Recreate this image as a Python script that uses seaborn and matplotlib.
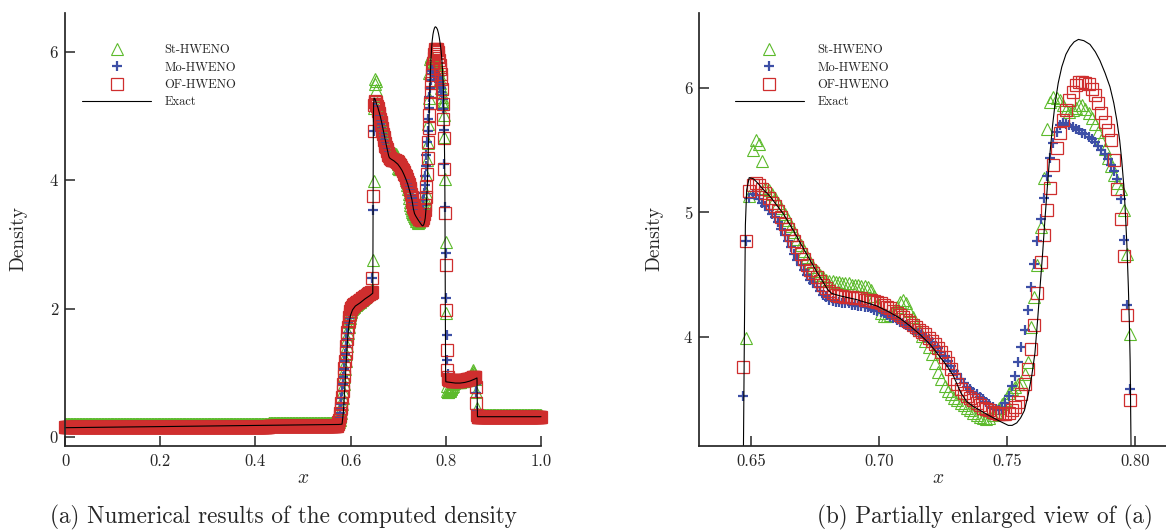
import numpy as np
import matplotlib
matplotlib.use("Agg")
import matplotlib.pyplot as plt
import seaborn as sns
from matplotlib.lines import Line2D

# ── data ──
# uniform mesh of 800 cells
n_cells = 800
x_cells = (np.arange(n_cells) + 0.5) / n_cells

rho_st = ([0.200] * 114 + [0.205] * 114 + [0.210] * 114 + [0.215] * 114 + [
    0.22, 0.22, 0.22, 0.23,
    0.24, 0.27, 0.31, 0.37, 0.44, 0.52, 0.61, 0.71, 0.82, 0.94,
    1.06, 1.18, 1.30, 1.41, 1.52, 1.62, 1.71, 1.79, 1.85, 1.90,
    1.94, 1.97, 1.99, 2.01, 2.02, 2.03, 2.04, 2.05, 2.06, 2.07,
    2.07, 2.08, 2.09, 2.10, 2.11, 2.11, 2.12, 2.13, 2.14, 2.15,
    2.15, 2.16, 2.17, 2.18, 2.19, 2.19, 2.20, 2.21, 2.22, 2.23,
    2.23, 2.24, 2.25, 2.26, 2.27, 2.28, 2.30, 2.76, 3.99, 5.13,
    5.50, 5.58, 5.55, 5.41, 5.20, 5.18, 5.15, 5.12, 5.08, 5.04,
    4.99, 4.94, 4.89, 4.84, 4.79, 4.74, 4.69, 4.64, 4.60, 4.56,
    4.53, 4.50, 4.48, 4.46, 4.45, 4.45, 4.44, 4.44, 4.43, 4.43,
    4.43, 4.42, 4.42, 4.42, 4.41, 4.41, 4.40, 4.38, 4.33, 4.26,
    4.19, 4.17, 4.17, 4.18, 4.20, 4.24, 4.28, 4.30, 4.27, 4.21,
    4.16, 4.10, 4.06, 4.01, 3.97, 3.92, 3.86, 3.79, 3.72, 3.66,
    3.61, 3.57, 3.54, 3.51, 3.49, 3.47, 3.45, 3.43, 3.41, 3.39,
    3.37, 3.36, 3.35, 3.34, 3.35, 3.37, 3.40, 3.43, 3.46, 3.49,
    3.55, 3.58, 3.60, 3.62, 3.64, 3.70, 3.80, 4.08, 4.32, 4.58,
    4.88, 5.28, 5.67, 5.89, 5.93, 5.92, 5.90, 5.86, 5.82, 5.81,
    5.82, 5.84, 5.86, 5.86, 5.83, 5.80, 5.76, 5.71, 5.65, 5.58,
    5.51, 5.44, 5.37, 5.30, 5.24, 5.19, 5.02, 4.67, 4.02, 3.04,
    1.93, 0.80, 0.72, 0.70, 0.70, 0.71, 0.72, 0.73, 0.74, 0.76,
    0.78, 0.80, 0.82, 0.84, 0.85, 0.86, 0.86, 0.86, 0.86, 0.86,
    0.86, 0.86, 0.86, 0.86, 0.86, 0.87, 0.87, 0.87, 0.87, 0.87,
    0.87, 0.88, 0.88, 0.88, 0.88, 0.89, 0.89, 0.89, 0.90, 0.90,
    0.91, 0.92, 0.93, 0.95, 0.98, 1.02, 1.04, 1.00, 0.97, 0.95,
    0.90, 0.70, 0.45, 0.36, 0.35,
] + [0.35] * 105)

rho_mo = ([0.160] * 114 + [0.165] * 114 + [0.170] * 114 + [0.175] * 114 + [
    0.18, 0.19, 0.22, 0.26,
    0.31, 0.37, 0.44, 0.52, 0.61, 0.71, 0.82, 0.94, 1.06, 1.18,
    1.30, 1.41, 1.52, 1.62, 1.71, 1.79, 1.86, 1.91, 1.95, 1.98,
    2.00, 2.02, 2.03, 2.04, 2.05, 2.06, 2.07, 2.07, 2.08, 2.09,
    2.10, 2.10, 2.11, 2.12, 2.12, 2.13, 2.14, 2.14, 2.15, 2.16,
    2.16, 2.17, 2.18, 2.18, 2.19, 2.20, 2.20, 2.21, 2.22, 2.22,
    2.23, 2.24, 2.24, 2.25, 2.26, 2.26, 2.47, 3.53, 4.77, 5.12,
    5.15, 5.14, 5.11, 5.08, 5.05, 5.02, 4.99, 4.96, 4.92, 4.87,
    4.82, 4.77, 4.72, 4.67, 4.62, 4.58, 4.54, 4.50, 4.46, 4.43,
    4.40, 4.37, 4.34, 4.32, 4.30, 4.29, 4.28, 4.28, 4.27, 4.27,
    4.27, 4.26, 4.26, 4.25, 4.25, 4.24, 4.24, 4.23, 4.22, 4.21,
    4.20, 4.19, 4.18, 4.16, 4.15, 4.14, 4.12, 4.11, 4.10, 4.08,
    4.06, 4.05, 4.03, 4.02, 4.00, 3.98, 3.96, 3.93, 3.91, 3.88,
    3.85, 3.81, 3.77, 3.73, 3.70, 3.66, 3.63, 3.60, 3.58, 3.56,
    3.54, 3.52, 3.50, 3.48, 3.46, 3.44, 3.42, 3.41, 3.42, 3.47,
    3.53, 3.61, 3.69, 3.80, 3.92, 4.06, 4.22, 4.40, 4.59, 4.77,
    4.95, 5.12, 5.29, 5.44, 5.56, 5.65, 5.70, 5.72, 5.71, 5.70,
    5.69, 5.67, 5.66, 5.64, 5.63, 5.61, 5.59, 5.57, 5.53, 5.50,
    5.47, 5.43, 5.38, 5.33, 5.27, 5.11, 4.78, 4.26, 3.58, 2.86,
    2.16, 1.59, 1.20, 0.98, 0.90, 0.87, 0.86, 0.86, 0.86, 0.86,
    0.85, 0.85, 0.85, 0.85, 0.85, 0.85, 0.85, 0.85, 0.85, 0.85,
    0.85, 0.85, 0.85, 0.85, 0.85, 0.85, 0.85, 0.85, 0.85, 0.85,
    0.85, 0.85, 0.86, 0.86, 0.86, 0.86, 0.87, 0.87, 0.87, 0.88,
    0.88, 0.88, 0.89, 0.89, 0.89, 0.90, 0.90, 0.90, 0.91, 0.91,
    0.82, 0.68, 0.40, 0.32, 0.32,
] + [0.32] * 105)

rho_of = ([0.150] * 114 + [0.155] * 114 + [0.160] * 114 + [0.165] * 114 + [
    0.17, 0.18, 0.20, 0.23,
    0.27, 0.32, 0.38, 0.45, 0.53, 0.62, 0.72, 0.83, 0.95, 1.07,
    1.19, 1.31, 1.42, 1.53, 1.63, 1.72, 1.80, 1.87, 1.92, 1.96,
    1.99, 2.01, 2.03, 2.04, 2.05, 2.06, 2.07, 2.07, 2.08, 2.09,
    2.10, 2.10, 2.11, 2.12, 2.12, 2.13, 2.14, 2.14, 2.15, 2.16,
    2.16, 2.17, 2.18, 2.18, 2.19, 2.20, 2.20, 2.21, 2.22, 2.22,
    2.23, 2.24, 2.24, 2.25, 2.26, 2.26, 2.48, 3.76, 4.77, 5.17,
    5.22, 5.24, 5.22, 5.19, 5.16, 5.12, 5.08, 5.05, 5.01, 4.96,
    4.91, 4.87, 4.82, 4.77, 4.72, 4.67, 4.63, 4.58, 4.54, 4.51,
    4.48, 4.45, 4.42, 4.39, 4.37, 4.35, 4.34, 4.33, 4.33, 4.32,
    4.32, 4.32, 4.31, 4.31, 4.31, 4.30, 4.30, 4.30, 4.29, 4.28,
    4.27, 4.26, 4.24, 4.23, 4.21, 4.19, 4.18, 4.16, 4.14, 4.12,
    4.10, 4.08, 4.06, 4.04, 4.02, 3.99, 3.97, 3.94, 3.91, 3.88,
    3.84, 3.79, 3.74, 3.66, 3.62, 3.58, 3.55, 3.53, 3.51, 3.49,
    3.47, 3.45, 3.43, 3.42, 3.41, 3.40, 3.39, 3.38, 3.38, 3.38,
    3.39, 3.41, 3.44, 3.48, 3.54, 3.62, 3.74, 3.90, 4.10, 4.35,
    4.60, 4.82, 5.02, 5.20, 5.38, 5.52, 5.64, 5.74, 5.82, 5.90,
    5.97, 6.02, 6.05, 6.05, 6.04, 6.03, 5.99, 5.94, 5.88, 5.80,
    5.73, 5.66, 5.58, 5.42, 5.19, 4.95, 4.65, 4.18, 3.49, 2.68,
    1.98, 1.36, 1.04, 0.93, 0.90, 0.88, 0.88, 0.88, 0.88, 0.88,
    0.87, 0.87, 0.87, 0.87, 0.87, 0.87, 0.87, 0.87, 0.87, 0.87,
    0.87, 0.87, 0.87, 0.87, 0.88, 0.88, 0.88, 0.88, 0.88, 0.88,
    0.89, 0.89, 0.89, 0.89, 0.89, 0.90, 0.90, 0.90, 0.90, 0.91,
    0.91, 0.91, 0.92, 0.92, 0.92, 0.93, 0.93, 0.93, 0.94, 0.93,
    0.78, 0.53, 0.34, 0.31, 0.31,
] + [0.31] * 105)

x_exact = [
    0.0, 0.2, 0.4, 0.575, 0.582, 0.585, 0.588, 0.591, 0.594, 0.597,
    0.600, 0.604, 0.61, 0.62, 0.63, 0.64, 0.6466, 0.6470, 0.6474, 0.6478,
    0.6483, 0.6493, 0.6510, 0.6529, 0.6550, 0.6574, 0.6600, 0.6626, 0.6650, 0.6678,
    0.6705, 0.6730, 0.6755, 0.6776, 0.6800, 0.6815, 0.6848, 0.6913, 0.6991, 0.7040,
    0.7082, 0.7120, 0.7160, 0.7200, 0.7238, 0.7265, 0.7290, 0.7305, 0.7320, 0.7343,
    0.7370, 0.7395, 0.7420, 0.7447, 0.7475, 0.7505, 0.7520, 0.7538, 0.7553, 0.7568,
    0.7583, 0.7596, 0.7609, 0.7620, 0.7629, 0.7639, 0.7648, 0.7658, 0.7668, 0.7678,
    0.7688, 0.7700, 0.7714, 0.7730, 0.7746, 0.7762, 0.7779, 0.7800, 0.7824, 0.7845,
    0.7863, 0.7883, 0.7902, 0.7917, 0.7929, 0.7940, 0.7948, 0.7956, 0.7961, 0.7968,
    0.7974, 0.7978, 0.7981, 0.7984, 0.7990, 0.7996, 0.8000, 0.8100, 0.8200, 0.8300,
    0.8400, 0.8500, 0.8600, 0.8655, 0.8660, 0.8665, 1.0,
]
rho_exact = [
    0.145, 0.162, 0.180, 0.195, 0.20, 0.40, 0.78, 1.20, 1.55, 1.78,
    1.90, 1.98, 2.04, 2.09, 2.15, 2.20, 2.24, 3.00, 4.00, 4.90,
    5.18, 5.28, 5.27, 5.23, 5.18, 5.13, 5.06, 4.99, 4.91, 4.81,
    4.71, 4.62, 4.53, 4.46, 4.38, 4.35, 4.33, 4.30, 4.25, 4.20,
    4.15, 4.09, 4.02, 3.94, 3.84, 3.77, 3.69, 3.62, 3.55, 3.48,
    3.44, 3.41, 3.38, 3.35, 3.32, 3.29, 3.29, 3.31, 3.35, 3.41,
    3.54, 3.68, 3.87, 4.15, 4.40, 4.67, 4.94, 5.22, 5.48, 5.70,
    5.88, 6.04, 6.17, 6.27, 6.33, 6.37, 6.39, 6.38, 6.35, 6.29,
    6.22, 6.12, 6.01, 5.88, 5.74, 5.58, 5.42, 5.22, 5.05, 4.75,
    4.40, 4.10, 3.80, 3.20, 2.00, 1.00, 0.86, 0.85, 0.84, 0.84,
    0.85, 0.87, 0.90, 0.92, 0.60, 0.316, 0.316,
]

assert len(rho_st) == len(rho_mo) == len(rho_of) == n_cells
assert len(x_exact) == len(rho_exact)

methods = ["St-HWENO", "Mo-HWENO", "OF-HWENO"]
series = {"St-HWENO": rho_st, "Mo-HWENO": rho_mo, "OF-HWENO": rho_of}

# ── style ──
sns.set_style("ticks")
plt.rcParams["font.family"] = ["cmr10", "DejaVu Serif"]
plt.rcParams["mathtext.fontset"] = "cm"
plt.rcParams["axes.formatter.use_mathtext"] = True
plt.rcParams["axes.unicode_minus"] = False

colors = {"St-HWENO": "#5cba2c", "Mo-HWENO": "#3d4fa6", "OF-HWENO": "#cf2e2e"}
marker_kw = {
    "St-HWENO": dict(marker="^", markersize=9, markerfacecolor="none",
                     markeredgewidth=0.8),
    "Mo-HWENO": dict(marker="+", markersize=7, markeredgewidth=1.6),
    "OF-HWENO": dict(marker="s", markersize=8.5, markerfacecolor="none",
                     markeredgewidth=0.9),
}

W, H = 1166, 531
fig = plt.figure(figsize=(W / 100, H / 100), dpi=100)
ax_a = fig.add_axes([65 / W, 84.7 / H, 476 / W, 433.4 / H])
ax_b = fig.add_axes([699.3 / W, 84.7 / H, 466.7 / W, 433.4 / H])


def draw_panel(ax, clip):
    for m in methods:
        sns.lineplot(x=x_cells, y=series[m], ax=ax, estimator=None, sort=False,
                     linestyle="none", color=colors[m],
                     markeredgecolor=colors[m], clip_on=clip, legend=False,
                     **marker_kw[m])
    sns.lineplot(x=x_exact, y=rho_exact, ax=ax, estimator=None, sort=False,
                 color="black", linewidth=0.8, clip_on=clip, legend=False)

    for s in ("top", "right"):
        ax.spines[s].set_visible(False)
    for s in ("left", "bottom"):
        ax.spines[s].set_linewidth(1.25)
    ax.tick_params(direction="in", length=7, width=1.1, labelsize=12, pad=5)
    ax.set_xlabel("$x$", fontsize=14)
    ax.set_ylabel("Density", fontsize=14)

    handles = [Line2D([], [], linestyle="none", color=colors[m],
                      markeredgecolor=colors[m], **marker_kw[m]) for m in methods]
    handles.append(Line2D([], [], color="black", linewidth=0.8))
    return handles


legend_kw = dict(loc="upper left", frameon=False, borderaxespad=0, borderpad=0,
                 handlelength=5.5, handletextpad=1.1, labelspacing=0.42,
                 prop={"family": "cmr10", "size": 9})

h = draw_panel(ax_a, False)
ax_a.set_xlim(0, 1)
ax_a.set_ylim(-0.145, 6.606)
ax_a.set_xticks([0, 0.2, 0.4, 0.6, 0.8, 1.0])
ax_a.set_xticklabels(["0", "0.2", "0.4", "0.6", "0.8", "1.0"])
ax_a.set_yticks([0, 2, 4, 6])
ax_a.set_yticklabels(["0", "2", "4", "6"])
ax_a.yaxis.set_label_coords(-0.078, 0.48)
ax_a.xaxis.set_label_coords(0.5, -0.052)
ax_a.legend(h, methods + ["Exact"], bbox_to_anchor=(0.036, 0.928), **legend_kw)

h = draw_panel(ax_b, True)
ax_b.set_xlim(0.6298, 0.8121)
ax_b.set_ylim(3.122, 6.603)
ax_b.set_xticks([0.65, 0.70, 0.75, 0.80])
ax_b.set_xticklabels(["0.65", "0.70", "0.75", "0.80"])
ax_b.set_yticks([4, 5, 6])
ax_b.set_yticklabels(["4", "5", "6"])
ax_b.yaxis.set_label_coords(-0.078, 0.48)
ax_b.xaxis.set_label_coords(0.512, -0.052)
ax_b.legend(h, methods + ["Exact"], bbox_to_anchor=(0.0765, 0.928), **legend_kw)

fig.text(283 / W, 1 - 517 / H, "(a) Numerical results of the computed density",
         ha="center", va="center", fontsize=16.7)
fig.text(985 / W, 1 - 517 / H, "(b) Partially enlarged view of (a)",
         ha="center", va="center", fontsize=16.7)

fig.savefig("out.png", dpi=100)
